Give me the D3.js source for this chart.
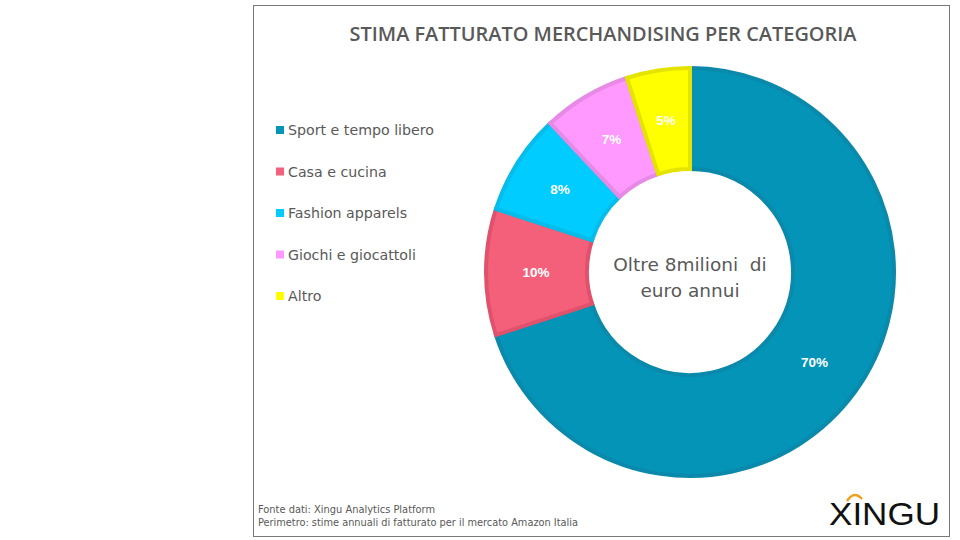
<!DOCTYPE html>
<html><head><meta charset="utf-8">
<script src="https://cdn.jsdelivr.net/npm/d3@7"></script>
<style>body{margin:0;background:#fff}svg{display:block}</style>
</head><body>
<svg id="c" width="960" height="540"></svg>
<script>
const categories = ["Sport e tempo libero","Casa e cucina","Fashion apparels","Giochi e giocattoli","Altro"];
const values = [70,10,8,7,5];
const labels = ["70%","10%","8%","7%","5%"];
const fills = ["#0494B8","#F4607A","#00CCFF","#FF99FF","#FFFF00"];
const strokes = ["#0A89AA","#E0526C","#05BCEA","#E68AE6","#E4E400"];
const title = "STIMA FATTURATO MERCHANDISING PER CATEGORIA";
const centerLines = ["Oltre 8milioni  di","euro annui"];
const footer = ["Fonte dati: Xingu Analytics Platform","Perimetro: stime annuali di fatturato per il mercato Amazon Italia"];

const svg = d3.select("#c");
svg.append("rect").attr("x",253.5).attr("y",5.5).attr("width",696).attr("height",531)
  .attr("fill","#fff").attr("stroke","#7a7a7a").attr("stroke-width",1);

svg.append("text").attr("x",603).attr("y",41).attr("text-anchor","middle")
  .attr("font-family","Open Sans, DejaVu Sans, sans-serif").attr("font-weight",600)
  .attr("font-size",20).attr("fill","#595959")
  .attr("textLength",507).attr("lengthAdjust","spacingAndGlyphs").text(title);

const data = categories.map((c,i)=>({cat:c,value:values[i],label:labels[i],fill:fills[i],stroke:strokes[i]}));
const pie = d3.pie().value(d=>d.value).sort(null);
const cx=690, cy=272, R=206, r0=101;
const arc = d3.arc().outerRadius(R-2).innerRadius(r0+2);
const labelArc = d3.arc().outerRadius(154).innerRadius(154);
const g = svg.append("g").attr("transform",`translate(${cx},${cy})`);
const arcs = pie(data);
g.selectAll("path").data(arcs).join("path").attr("d",arc)
  .attr("fill",d=>d.data.fill).attr("stroke",d=>d.data.stroke).attr("stroke-width",4).attr("stroke-linejoin","miter");
g.selectAll("text.lbl").data(arcs).join("text").attr("class","lbl")
  .attr("transform",d=>`translate(${labelArc.centroid(d)})`)
  .attr("text-anchor","middle").attr("dy","0.36em")
  .attr("font-family","Liberation Sans, Arial, sans-serif").attr("font-weight","bold")
  .attr("font-size",13.5).attr("fill","#fff").text(d=>d.data.label);

// center text
const ct = svg.append("text").attr("text-anchor","middle")
  .attr("font-family","DejaVu Sans, Verdana, sans-serif").attr("font-size",18.5).attr("fill","#595959");
ct.append("tspan").attr("x",cx).attr("y",271).style("white-space","pre").text(centerLines[0]);
ct.append("tspan").attr("x",cx).attr("y",297).text(centerLines[1]);

// legend
const ly = d3.scalePoint().domain(categories).range([130,296]);
const lg = svg.append("g").selectAll("g").data(data).join("g")
  .attr("transform",d=>`translate(276,${ly(d.cat)})`);
lg.append("rect").attr("x",0).attr("y",-4).attr("width",8).attr("height",8).attr("fill",d=>d.fill);
lg.append("text").attr("x",12).attr("y",5).attr("font-family","DejaVu Sans, Verdana, sans-serif")
  .attr("font-size",14.2).attr("fill","#595959").text(d=>d.cat);

// footer
svg.append("text").attr("x",258).attr("y",513).attr("font-family","DejaVu Sans Condensed, Liberation Sans Narrow, sans-serif")
  .attr("font-size",10).attr("fill","#595959").attr("textLength",177).attr("lengthAdjust","spacingAndGlyphs").text(footer[0]);
svg.append("text").attr("x",258).attr("y",526).attr("font-family","DejaVu Sans Condensed, Liberation Sans Narrow, sans-serif")
  .attr("font-size",10).attr("fill","#595959").attr("textLength",320).attr("lengthAdjust","spacingAndGlyphs").text(footer[1]);

// logo
svg.append("text").attr("x",829).attr("y",525).attr("font-family","Liberation Sans, Arial, sans-serif")
  .attr("font-size",32).attr("fill","#111").attr("textLength",111).attr("lengthAdjust","spacingAndGlyphs").text("XINGU");
svg.append("path").attr("d","M847,501 Q854,490 862,499").attr("fill","none").attr("stroke","#F0A020").attr("stroke-width",2.5);
</script>
</body></html>
